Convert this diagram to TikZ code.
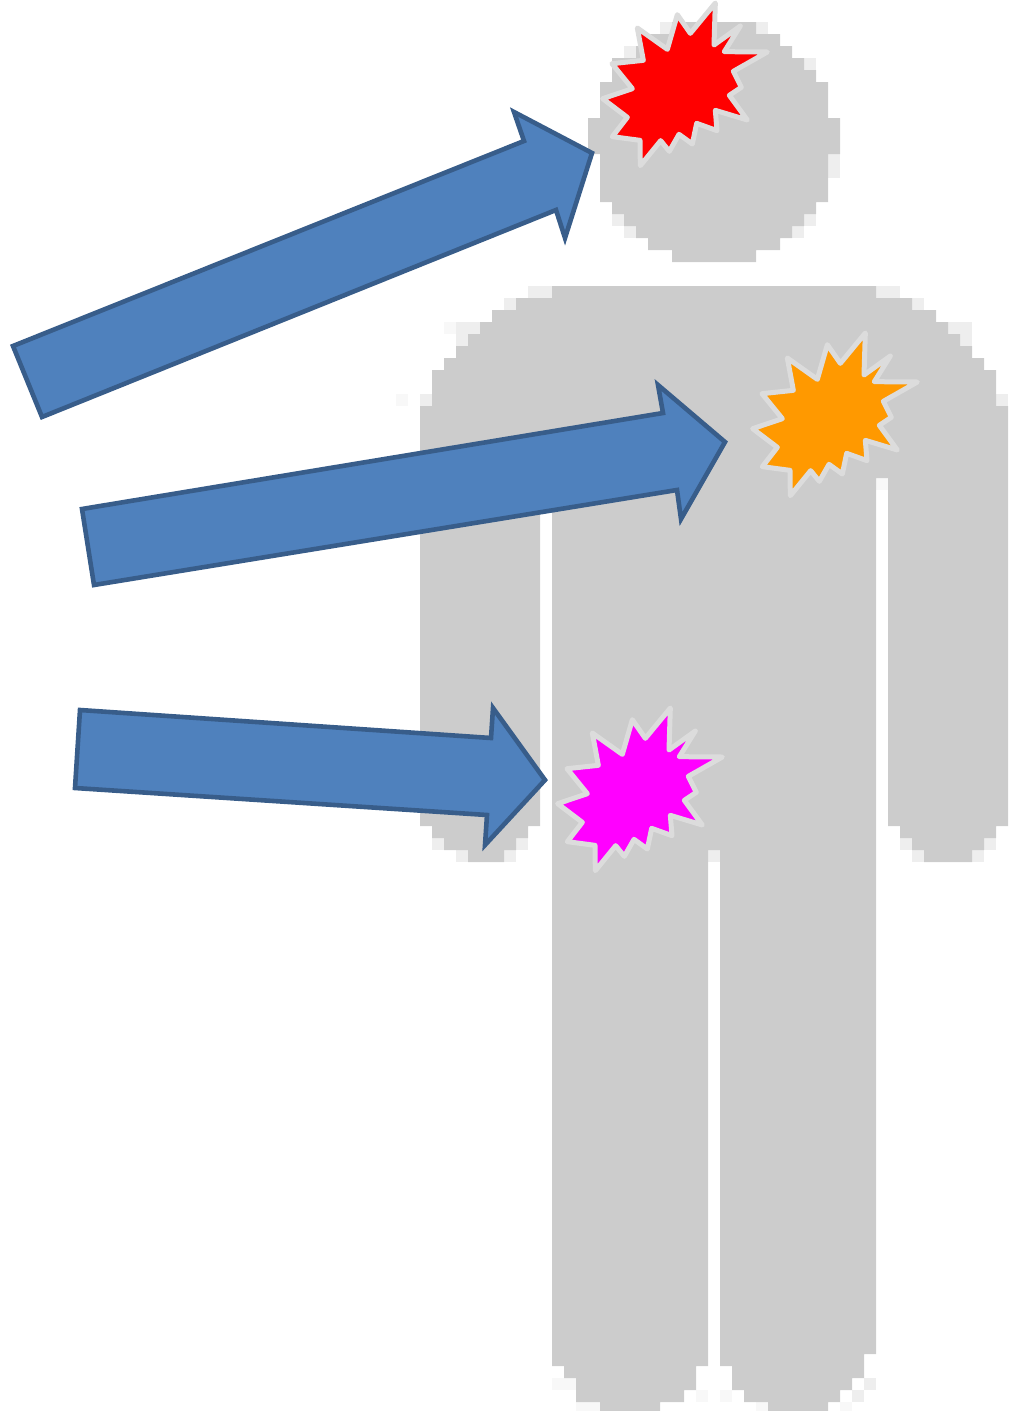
\documentclass[tikz,border=0pt]{standalone}
\definecolor{figgray}{HTML}{CCCCCC}
\definecolor{figfaint}{HTML}{EEEEEE}
\definecolor{figpale}{HTML}{F8F8F8}
\definecolor{arrowfill}{HTML}{4F81BD}
\definecolor{arrowline}{HTML}{385D8A}
\definecolor{burstline}{HTML}{DCDCDC}
\definecolor{burstred}{HTML}{FF0000}
\definecolor{burstorange}{HTML}{FF9900}
\definecolor{burstmagenta}{HTML}{FF00FF}
\tikzset{
  figure/.style={fill=figgray,draw=none},
  blockarrow/.style={fill=arrowfill,draw=arrowline,line width=4.6pt,line join=miter,miter limit=10},
  burst/.style={draw=burstline,line width=5pt,line join=round},
}
\newcommand\drawburst[3]{%
  \path[burst,fill=#1,shift={(#2,#3)},scale=1/3]
    (406,9) -- (402,135) -- (481,78) -- (433,155) -- (562,156) -- (460,214) -- (484,262) -- (448,286)
    -- (502,360) -- (406,331) -- (411,392) -- (350,370) -- (337,432) -- (297,403) -- (268,454)
    -- (242,422) -- (181,497) -- (180,421) -- (97,410) -- (142,352) -- (68,296) -- (157,266)
    -- (96,191) -- (190,181) -- (172,84) -- (262,148) -- (292,44) -- (331,100) -- cycle;
}
\begin{document}
\begin{tikzpicture}[x=1pt,y=-1pt]
\useasboundingbox (0,0) rectangle (1009,1411);
% faint edge pixels
\foreach \a/\b in {660/22,756/22,624/46,804/58,612/214,624/226,804/214,792/226,828/154,828/166,
  528/286,540/286,504/298,456/322,468/322,456/334,420/394,876/286,888/286,912/298,948/322,960/322,960/334,996/394,
  432/838,456/850,516/838,504/850,900/838,912/850,984/838,972/850,708/850,864/1378,852/1390}
  {\fill[figfaint] (\a,\b) rectangle ++(12,12);}
\foreach \a/\b in {876/478,552/1378,564/1378,696/1390,720/1390,576/1402,588/1402,648/1402,756/1402,816/1402,840/1402,444/322,396/394}
  {\fill[figpale] (\a,\b) rectangle ++(12,12);}
% head
\fill[figure] (672,22) -- (756,22) |- (780,34) |- (792,46) |- (804,58) |- (816,70) |- (828,82) |- (840,118)
  |- (828,154) |- (816,202) |- (804,214) |- (792,226) |- (780,238) |- (756,250) |- (672,262)
  |- (648,250) |- (636,238) |- (624,226) |- (612,214) |- (600,202) |- (588,154) |- (600,118)
  |- (612,82) |- (636,58) |- (648,46) |- (672,34) -- cycle;
% body
\fill[figure] (552,286) -- (876,286) |- (912,298) |- (936,310) |- (948,322) |- (960,334) |- (972,346)
  |- (984,358) |- (996,370) |- (1008,406) |- (996,826) |- (984,838) |- (972,850) |- (924,862)
  |- (912,850) |- (900,838) |- (888,826) |- (876,478) |- (864,1354) |- (852,1378) |- (840,1390)
  |- (828,1402) |- (768,1411) |- (744,1402) |- (732,1390) |- (720,1366) |- (708,850)
  |- (696,1366) |- (684,1390) |- (660,1402) |- (600,1411) |- (576,1402) |- (564,1378) |- (552,1366)
  |- (540,478) |- (528,826) |- (516,838) |- (504,850) |- (468,862) |- (444,850) |- (432,838)
  |- (420,826) |- (432,406) |- (444,370) |- (456,358) |- (468,346) |- (480,334) |- (492,322)
  |- (516,310) |- (552,298) -- cycle;
% arrows
\path[blockarrow] (13,346) -- (42,417) -- (556,210) -- (565,238) -- (592,153) -- (514,112) -- (524,141) -- cycle;
\path[blockarrow] (82,509) -- (94,585) -- (677,490) -- (681,519) -- (725,442) -- (658,385) -- (663,413) -- cycle;
\path[blockarrow] (80,710) -- (75,788) -- (487,815) -- (485,845) -- (545,780) -- (493,708) -- (491,738) -- cycle;
% bursts
\drawburst{burstred}{580}{0}
\drawburst{burstorange}{730}{330}
\drawburst{burstmagenta}{535}{705}
\end{tikzpicture}
\end{document}
